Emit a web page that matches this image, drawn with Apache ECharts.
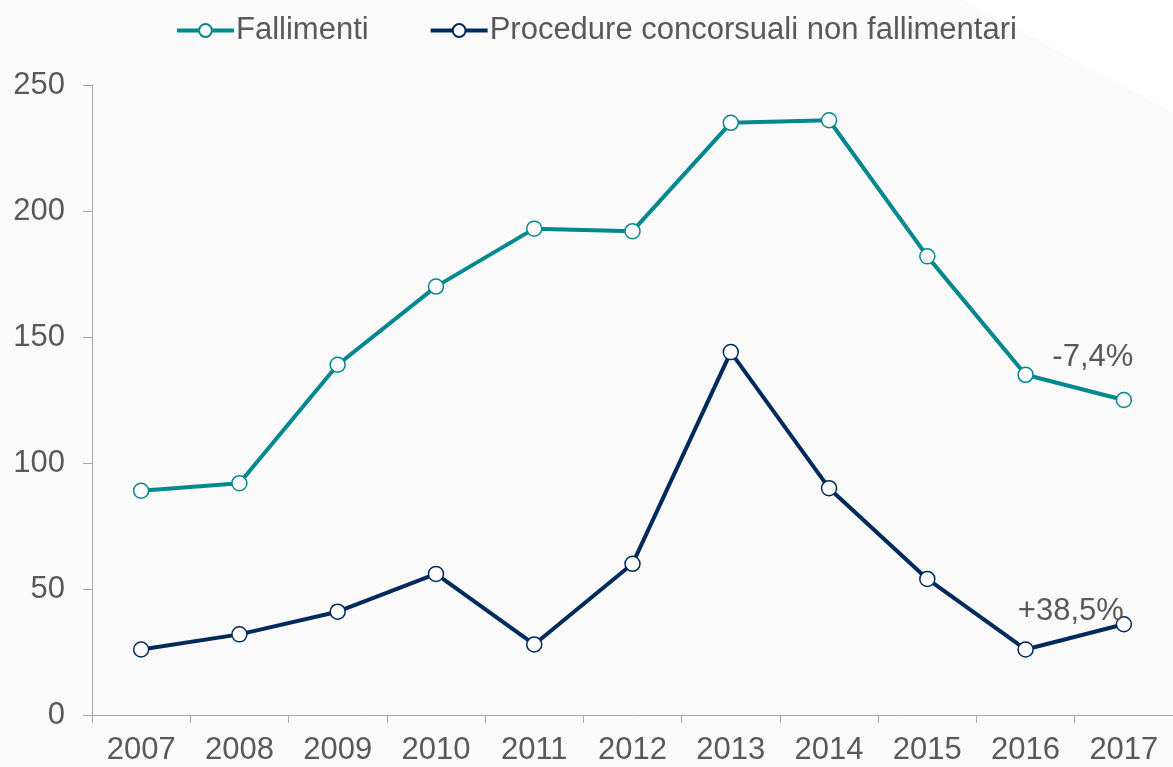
<!DOCTYPE html>
<html>
<head>
<meta charset="utf-8">
<script src="https://cdn.jsdelivr.net/npm/echarts@6/dist/echarts.min.js"></script>
<style>
html, body { margin: 0; padding: 0; background: #fafafa; }
#chart { width: 1173px; height: 767px; }
</style>
</head>
<body>
<div id="chart"></div>
<script>
var years = ['2007', '2008', '2009', '2010', '2011', '2012', '2013', '2014', '2015', '2016', '2017'];
var fallimenti = [89, 92, 139, 170, 193, 192, 235, 236, 182, 135, 125];
var procedure = [26, 32, 41, 56, 28, 60, 144, 90, 54, 26, 36];
var yTicks = [0, 50, 100, 150, 200, 250];
var notes = ['-7,4%', '+38,5%'];

var textGray = '#595959';
var teal = '#00888f';
var navy = '#002a5c';

function withNote(values, note, offset) {
    return values.map(function (v, i) {
        if (i !== values.length - 1) return v;
        return {
            value: v,
            label: {
                show: true,
                formatter: note,
                position: 'inside',
                offset: offset,
                color: textGray,
                fontSize: 31,
                fontFamily: 'Liberation Sans'
            }
        };
    });
}

var myChart = echarts.init(document.getElementById('chart'));
option = {
    backgroundColor: '#fafafa',
    textStyle: { fontFamily: 'Liberation Sans' },
    graphic: [{
        type: 'polygon',
        z: -10,
        shape: { points: [[963, 0], [1173, 0], [1173, 113]] },
        style: { fill: '#ffffff' }
    }],
    legend: {
        left: 175,
        top: 15,
        padding: 0,
        itemWidth: 57,
        itemHeight: 16,
        itemGap: 60,
        lineStyle: { width: 4 },
        textStyle: { color: textGray, fontSize: 31, padding: [0, 0, 0, -3] },
        data: ['Fallimenti', 'Procedure concorsuali non fallimentari']
    },
    grid: {
        left: 92,
        right: 0,
        top: 85,
        bottom: 52
    },
    xAxis: {
        type: 'category',
        data: years,
        boundaryGap: true,
        axisLine: { lineStyle: { color: '#a6a6a6', width: 1 } },
        axisTick: { show: true, length: 8, lineStyle: { color: '#a6a6a6' } },
        axisLabel: { color: textGray, fontSize: 31, margin: 20 }
    },
    yAxis: {
        type: 'value',
        min: yTicks[0],
        max: yTicks[yTicks.length - 1],
        interval: 50,
        axisLine: { show: true, lineStyle: { color: '#a6a6a6', width: 1 } },
        axisTick: { show: true, length: 9, lineStyle: { color: '#a6a6a6' } },
        splitLine: { show: false },
        axisLabel: { color: textGray, fontSize: 31, margin: 27 }
    },
    series: [{
        name: 'Fallimenti',
        type: 'line',
        symbol: 'circle',
        symbolSize: 15,
        color: teal,
        lineStyle: { color: teal, width: 4 },
        itemStyle: { color: '#ffffff', borderColor: teal, borderWidth: 1.5 },
        data: withNote(fallimenti, notes[0], [-31, -43])
    }, {
        name: 'Procedure concorsuali non fallimentari',
        type: 'line',
        symbol: 'circle',
        symbolSize: 15,
        color: navy,
        lineStyle: { color: navy, width: 4 },
        itemStyle: { color: '#ffffff', borderColor: navy, borderWidth: 1.5 },
        data: withNote(procedure, notes[1], [-53, -13])
    }]
};
myChart.setOption(option);
</script>
</body>
</html>
